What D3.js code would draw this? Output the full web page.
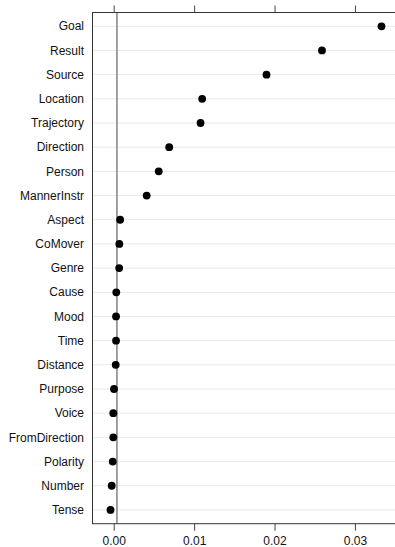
<!DOCTYPE html>
<html>
<head>
<meta charset="utf-8">
<script src="https://cdn.jsdelivr.net/npm/d3@7"></script>
<style>
  html, body { margin: 0; padding: 0; background: #fff; }
  svg { display: block; }
  text { font-family: "Liberation Sans", Arial, Helvetica, sans-serif; }
</style>
</head>
<body>
<svg id="chart" width="395" height="547"></svg>
<script>
// Variable importance per predictor, sorted from largest to smallest
const predictors = [
  "Goal", "Result", "Source", "Location", "Trajectory", "Direction",
  "Person", "MannerInstr", "Aspect", "CoMover", "Genre", "Cause",
  "Mood", "Time", "Distance", "Purpose", "Voice", "FromDirection",
  "Polarity", "Number", "Tense"
];
const importance = [
  0.0333, 0.0259, 0.0190, 0.0110, 0.0108, 0.0069,
  0.0056, 0.0041, 0.0008, 0.0007, 0.00068, 0.00032,
  0.00029, 0.00029, 0.00025, 0.00004, -0.00005, -0.00005,
  -0.00012, -0.00025, -0.0004
];
const xTicks = [0, 0.01, 0.02, 0.03];

// Cut-off line: absolute value of the most negative importance
const cutoff = Math.abs(d3.min(importance));

const data = predictors.map((name, i) => ({ name, value: importance[i] }));

const panel = { left: 92, top: 12.5, right: 404, bottom: 523.7 };

const svg = d3.select("#chart");

const x = d3.scaleLinear()
  .domain([-0.0027, 0.0361])
  .range([panel.left, panel.right]);

const y = d3.scalePoint()
  .domain(predictors)
  .range([panel.top, panel.bottom])
  .padding(0.57);

// Horizontal guide lines, one per predictor
svg.append("g")
  .selectAll("line")
  .data(data)
  .join("line")
  .attr("x1", panel.left)
  .attr("x2", panel.right)
  .attr("y1", d => y(d.name))
  .attr("y2", d => y(d.name))
  .attr("stroke", "#e8e8e8")
  .attr("stroke-width", 1);

// Vertical cut-off line
svg.append("line")
  .attr("x1", x(cutoff))
  .attr("x2", x(cutoff))
  .attr("y1", panel.top)
  .attr("y2", panel.bottom)
  .attr("stroke", "#8a8a8a")
  .attr("stroke-width", 1.6);

// Points
svg.append("g")
  .selectAll("circle")
  .data(data)
  .join("circle")
  .attr("cx", d => x(d.value))
  .attr("cy", d => y(d.name))
  .attr("r", 3.9)
  .attr("fill", "#000");

// Panel border
svg.append("rect")
  .attr("x", panel.left + 0.5)
  .attr("y", panel.top)
  .attr("width", panel.right - panel.left)
  .attr("height", panel.bottom - panel.top)
  .attr("fill", "none")
  .attr("stroke", "#333")
  .attr("stroke-width", 1);

// Bottom axis
const bottomAxis = d3.axisBottom(x)
  .tickValues(xTicks)
  .tickFormat(d3.format(".2f"))
  .tickSizeInner(7)
  .tickSizeOuter(0)
  .tickPadding(5.5);

const gb = svg.append("g")
  .attr("transform", `translate(0,${panel.bottom})`)
  .call(bottomAxis);
gb.select(".domain").remove();
gb.selectAll(".tick line").attr("stroke", "#444");
gb.selectAll(".tick text")
  .attr("font-size", 12)
  .attr("fill", "#111")
  .style("font-family", '"Liberation Sans", Arial, sans-serif');

// Top axis ticks (no labels)
const topAxis = d3.axisTop(x)
  .tickValues(xTicks)
  .tickFormat("")
  .tickSizeInner(7)
  .tickSizeOuter(0);

const gt = svg.append("g")
  .attr("transform", `translate(0,${panel.top})`)
  .call(topAxis);
gt.select(".domain").remove();
gt.selectAll(".tick line").attr("stroke", "#444");

// Predictor labels
svg.append("g")
  .selectAll("text")
  .data(data)
  .join("text")
  .attr("x", 84)
  .attr("y", d => y(d.name))
  .attr("dy", "0.35em")
  .attr("text-anchor", "end")
  .attr("font-size", 12)
  .attr("fill", "#111")
  .text(d => d.name);
</script>
</body>
</html>
